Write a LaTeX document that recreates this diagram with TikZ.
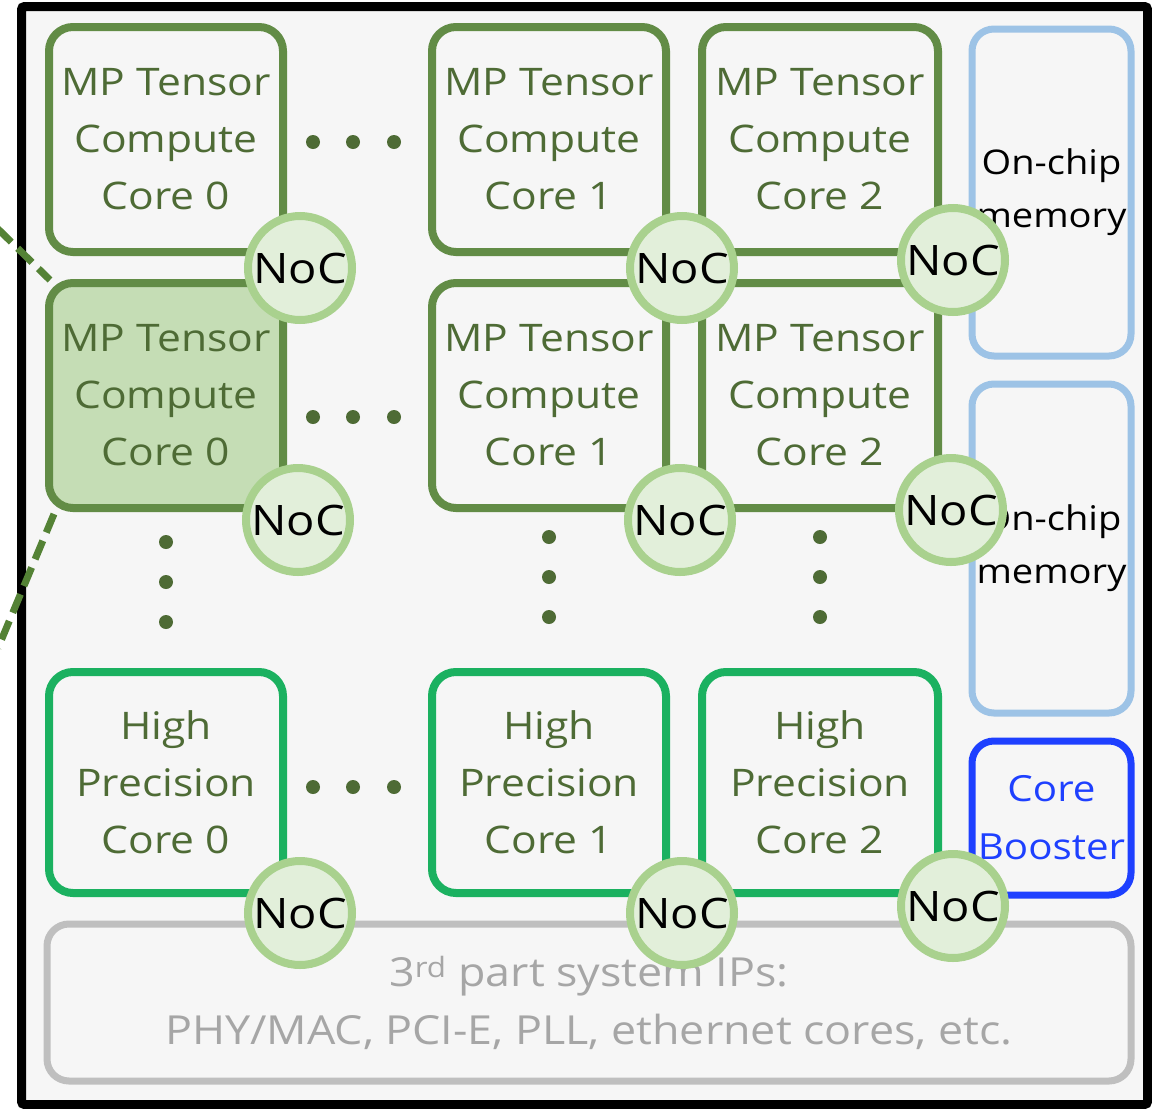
\documentclass[tikz,border=0pt]{standalone}
\usepackage{fontspec}
\setmainfont[FakeStretch=1.12]{Open Sans}
\usetikzlibrary{calc}
\definecolor{chipbg}{RGB}{246,246,246}
\definecolor{mpline}{RGB}{98,140,70}
\definecolor{mptext}{RGB}{78,107,53}
\definecolor{mpfill}{RGB}{197,221,181}
\definecolor{nocfill}{RGB}{226,239,218}
\definecolor{nocline}{RGB}{169,209,142}
\definecolor{hpline}{RGB}{27,177,96}
\definecolor{memline}{RGB}{157,195,230}
\definecolor{boostblue}{RGB}{30,64,255}
\definecolor{ipline}{RGB}{191,191,191}
\definecolor{iptext}{RGB}{166,166,166}
\definecolor{linkgreen}{RGB}{84,130,53}
\begin{document}
\begin{tikzpicture}[x=1pt,y=-1pt,
  corebox/.style={draw=mpline, line width=8pt, rounded corners=24pt,
    minimum width=234pt, minimum height=225pt, inner sep=0pt,
    text=mptext, align=center, font=\fontsize{38}{57}\selectfont},
  hpbox/.style={corebox, draw=hpline, minimum height=221pt},
  membox/.style={draw=memline, line width=7pt, rounded corners=22pt,
    minimum width=159pt, inner sep=0pt, align=center,
    font=\fontsize{34}{53}\selectfont},
  boostbox/.style={membox, draw=boostblue, text=boostblue,
    minimum height=154pt, font=\fontsize{36}{58}\selectfont},
  ipbox/.style={draw=ipline, line width=7pt, rounded corners=22pt,
    minimum width=1084pt, minimum height=157pt, inner sep=0pt,
    text=iptext, align=center, font=\fontsize{40}{58}\selectfont},
  noc/.style={circle, draw=nocline, fill=nocfill, line width=8pt,
    minimum size=104pt, inner sep=0pt, font=\fontsize{42}{50}\selectfont},
  link/.style={draw=linkgreen, line width=7pt, dash pattern=on 20pt off 9pt},
  dot/.style={fill=mptext}
]
\useasboundingbox (0,0) rectangle (1152,1109);

% chip outline
\node[draw=black, fill=chipbg, line width=9pt, rounded corners=3pt,
  minimum width=1126pt, minimum height=1098pt, inner sep=0pt]
  (chip) at (584.5,555.5) {};

% MP tensor compute cores
\node[corebox] (A0) at (166,139.5) {MP Tensor\\Compute\\Core 0};
\node[corebox] (A1) at (549,139.5) {MP Tensor\\Compute\\Core 1};
\node[corebox, minimum width=236pt] (A2) at (820,139.5) {MP Tensor\\Compute\\Core 2};
\node[corebox, fill=mpfill] (B0) at (166,395.5) {MP Tensor\\Compute\\Core 0};
\node[corebox] (B1) at (549,395.5) {MP Tensor\\Compute\\Core 1};
\node[corebox, minimum width=236pt] (B2) at (820,395.5) {MP Tensor\\Compute\\Core 2};

% high precision cores
\node[hpbox] (H0) at (166,782.5) {High\\Precision\\Core 0};
\node[hpbox] (H1) at (549,782.5) {High\\Precision\\Core 1};
\node[hpbox, minimum width=236pt] (H2) at (820,782.5) {High\\Precision\\Core 2};

% memories and booster
\node[membox, minimum height=327pt] (M1) at (1051.5,192.5) {On-chip\\memory};
\node[membox, minimum height=329pt] (M2) at (1051.5,548.5) {On-chip\\memory};
\node[boostbox] (CB) at (1051.5,818) {Core\\Booster};

% third-party IP block
\node[ipbox] (IP) at (589,1002.5) {3\textsuperscript{rd} part system IPs:\\PHY/MAC, PCI-E, PLL, ethernet cores, etc.};

% links to the zoomed core
\coordinate (zt) at (-3,228);
\coordinate (zb) at (-2,648);
\draw[link] (zt) -- ($(B0.north west)+(5,1)$);
\draw[link] ($(B0.south west)+(9,2)$) -- (zb);

% ellipsis dots
\foreach \y in {142,417,787}
  \foreach \x in {313,353,394}
    \fill[dot] (\x,\y) circle (7);
\foreach \y in {542,582,622}
  \fill[dot] (166,\y) circle (7);
\foreach \x in {549,820}
  \foreach \y in {537,577,617}
    \fill[dot] (\x,\y) circle (7);

% network-on-chip routers
\node[noc] (n11) at (300,268) {NoC};
\node[noc] (n12) at (682,268) {NoC};
\node[noc] (n13) at (953,260) {NoC};
\node[noc] (n21) at (298,520) {NoC};
\node[noc] (n22) at (680,520) {NoC};
\node[noc] (n23) at (951,510) {NoC};
\node[noc] (n31) at (300,913) {NoC};
\node[noc] (n32) at (682,913) {NoC};
\node[noc] (n33) at (953,906) {NoC};
\end{tikzpicture}
\end{document}
